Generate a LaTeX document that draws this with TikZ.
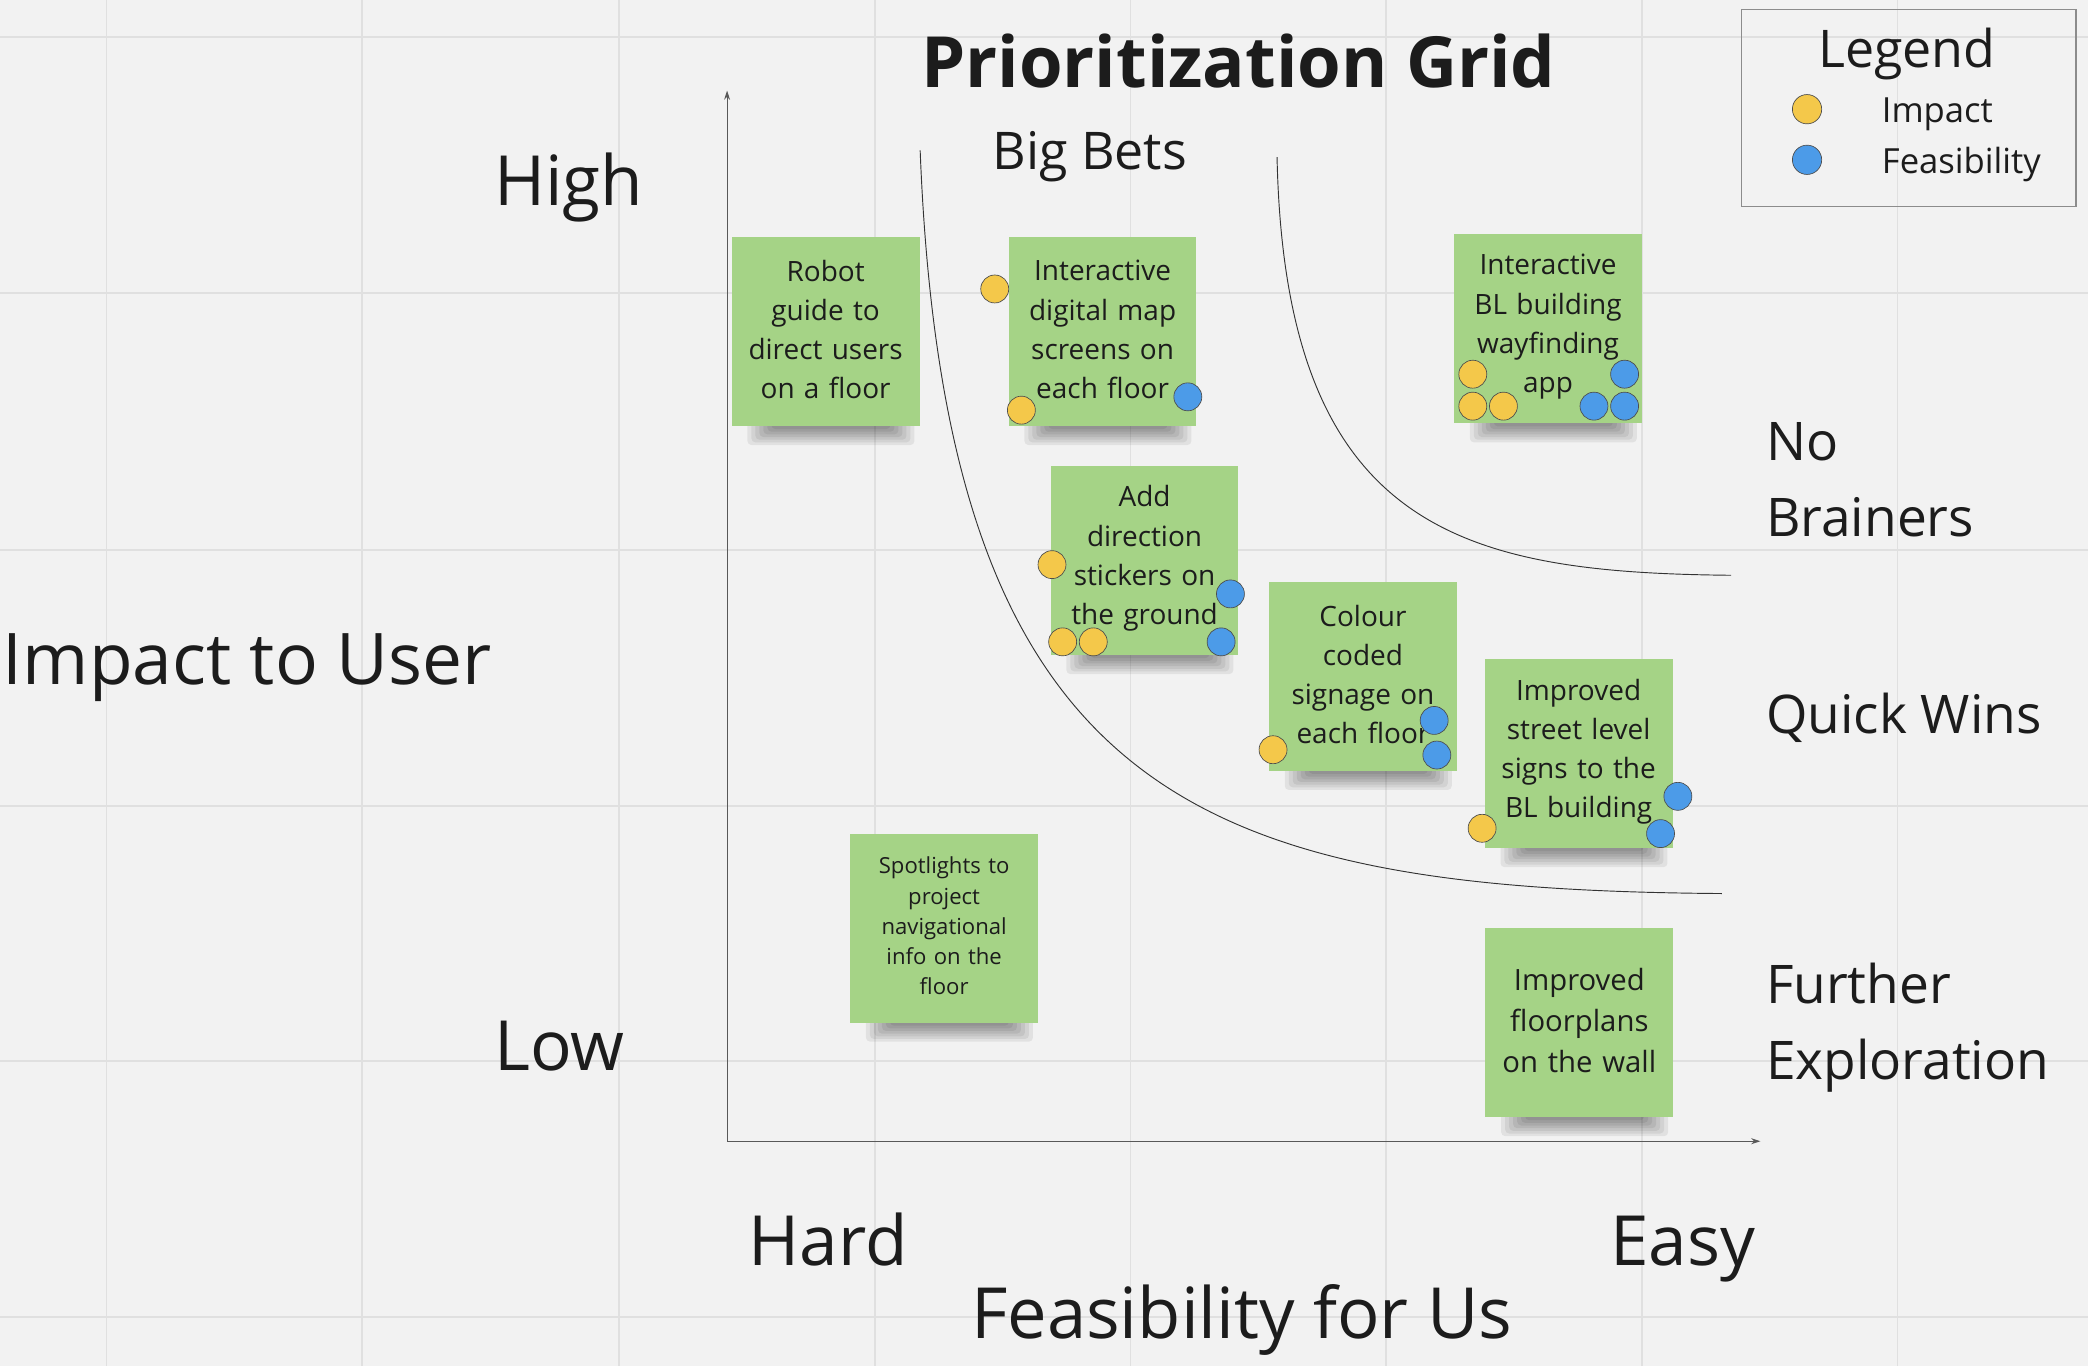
\documentclass[tikz,border=0pt]{standalone}
\usepackage{fontspec}
\setmainfont{Open Sans}
\usetikzlibrary{arrows.meta,calc}
\definecolor{bg}{HTML}{F2F2F2}
\definecolor{gridc}{HTML}{E0E0E0}
\definecolor{notec}{HTML}{A5D386}
\definecolor{dotY}{HTML}{F4C84A}
\definecolor{dotB}{HTML}{4C9BE8}
\definecolor{ink}{HTML}{1C1C1C}
\pgfdeclarelayer{back}
\pgfdeclarelayer{shade}
\pgfsetlayers{back,shade,main}
\begin{document}
\begin{tikzpicture}[x=1pt,y=-1pt,
  note/.style={fill=notec, minimum width=141pt, minimum height=142pt, inner sep=0pt, text width=138pt, align=center, text=ink, font=\fontsize{21}{29.5}\selectfont},
  vote/.style={circle, draw=black!70, line width=0.5pt, minimum size=21pt, inner sep=0pt},
  imp/.style={vote, fill=dotY},
  fea/.style={vote, fill=dotB},
  lbl/.style={text=ink, inner sep=0pt, font=\fontsize{52}{60}\selectfont},
  zone/.style={text=ink, inner sep=0pt, align=left, font=\fontsize{40}{57}\selectfont},
  axis/.style={draw=black!65, line width=0.8pt, -{Stealth[length=7pt,width=4.5pt]}},
  divider/.style={draw=black!80, line width=0.7pt},
  gridline/.style={draw=gridc, line width=1.3pt},
]
\useasboundingbox (0,0) rectangle (1568,1026);
\begin{pgfonlayer}{back}
\fill[bg] (0,0) rectangle (1568,1026);
\foreach \gx in {80,272,465,657,849,1041,1233,1425}{\draw[gridline] (\gx,0) -- (\gx,1026);}
\foreach \gy in {28,220,413,605,797,989}{\draw[gridline] (0,\gy) -- (1568,\gy);}
\end{pgfonlayer}

% title and axis labels
\node[lbl, anchor=base, font=\fontsize{53}{60}\selectfont\bfseries] (title) at (930,66) {Prioritization Grid};
\node[lbl, anchor=base west] (high) at (371,154) {High};
\node[lbl, anchor=base west] (low) at (371,804) {Low};
\node[lbl, anchor=base west, font=\fontsize{53.5}{60}\selectfont] (impact) at (2,514) {Impact to User};
\node[lbl, anchor=base west] (hard) at (562,950) {Hard};
\node[lbl, anchor=base west] (easy) at (1209,950) {Easy};
\node[lbl, anchor=base west, font=\fontsize{53}{60}\selectfont] (feas) at (729,1005) {Feasibility for Us};

% zone labels
\node[zone, anchor=base west, font=\fontsize{39}{57}\selectfont] (bigbets) at (745,127) {Big Bets};
\node[zone, anchor=north west] (nobrain) at (1326,317) {No\\Brainers};
\node[zone, anchor=base west] (quick) at (1326,551) {Quick Wins};
\node[zone, anchor=north west] (further) at (1326,723) {Further\\Exploration};

% axes
\coordinate (origin) at (546,857);
\coordinate (ytop) at (546,68);
\coordinate (xend) at (1322,857);
\draw[axis] (origin) -- (ytop);
\draw[axis] (origin) -- (xend);

% dividing curves
\coordinate (c1s) at (691,113);
\coordinate (c1e) at (1293,671);
\draw[divider] (c1s) .. controls (710,600) and (900,668) .. (c1e);
\coordinate (c2s) at (959,118);
\coordinate (c2e) at (1300,432);
\draw[divider] (c2s) .. controls (965,400) and (1100,430) .. (c2e);

% sticky notes
\node[note] (robot) at (620,249) {Robot\\guide to\\direct users\\on a floor\vspace{3pt}};
\node[note] (map) at (828,249) {Interactive\\digital map\\screens on\\each floor\vspace{3pt}};
\node[note] (app) at (1162.5,247) {Interactive\\BL building\\wayfinding\\app\vspace{3pt}};
\node[note] (stick) at (859.5,421) {Add\\direction\\stickers on\\the ground\vspace{3pt}};
\node[note] (colour) at (1023.5,508) {Colour\\coded\\signage on\\each floor\vspace{3pt}};
\node[note] (street) at (1185.5,566) {Improved\\street level\\signs to the\\BL building\vspace{3pt}};
\node[note, font=\fontsize{16.6}{22.7}\selectfont] (spot) at (709,697) {Spotlights to\\project\\navigational\\info on the\\floor\vspace{3pt}};
\node[note, font=\fontsize{22}{31}\selectfont] (plans) at (1186,768) {Improved\\floorplans\\on the wall\vspace{3pt}};

\begin{pgfonlayer}{shade}
\foreach \n in {robot,map,app,stick,colour,street,spot,plans}{
  \foreach \k in {0,...,6}{
    \fill[black, opacity=0.065, rounded corners=3pt] ($(\n.south west)+(12+3*\k,-4)$) rectangle ($(\n.south east)+(-4-3*\k,14-2*\k)$);
  }
}
\end{pgfonlayer}

% votes
\node[imp] (m1) at (747,217) {};
\node[imp] (m2) at (767,308) {};
\node[fea] (m3) at (892,298) {};
\node[imp] (a1) at (1106,281) {};
\node[imp] (a2) at (1106,305) {};
\node[imp] (a3) at (1129,305) {};
\node[fea] (a4) at (1220,281) {};
\node[fea] (a5) at (1197,305) {};
\node[fea] (a6) at (1220,305) {};
\node[imp] (s1) at (790,424) {};
\node[imp] (s2) at (798,482) {};
\node[imp] (s3) at (821,482) {};
\node[fea] (s4) at (924,446) {};
\node[fea] (s5) at (917,482) {};
\node[imp] (k1) at (956,563) {};
\node[fea] (k2) at (1077,541) {};
\node[fea] (k3) at (1079,567) {};
\node[imp] (t1) at (1113,622) {};
\node[fea] (t2) at (1260,598) {};
\node[fea] (t3) at (1247,626) {};

% legend
\draw[draw=black!45, line width=1pt] (1308,7) rectangle (1559,155);
\node[text=ink, inner sep=0pt, anchor=base, font=\fontsize{39}{45}\selectfont] (legend) at (1432,51) {Legend};
\node[imp, minimum size=22pt] (legimp) at (1357,82) {};
\node[fea, minimum size=22pt] (legfea) at (1357,120) {};
\node[text=ink, inner sep=0pt, anchor=base west, font=\fontsize{26}{30}\selectfont] (legimpt) at (1413,92) {Impact};
\node[text=ink, inner sep=0pt, anchor=base west, font=\fontsize{26}{30}\selectfont] (legfeat) at (1413,130) {Feasibility};
\end{tikzpicture}
\end{document}
